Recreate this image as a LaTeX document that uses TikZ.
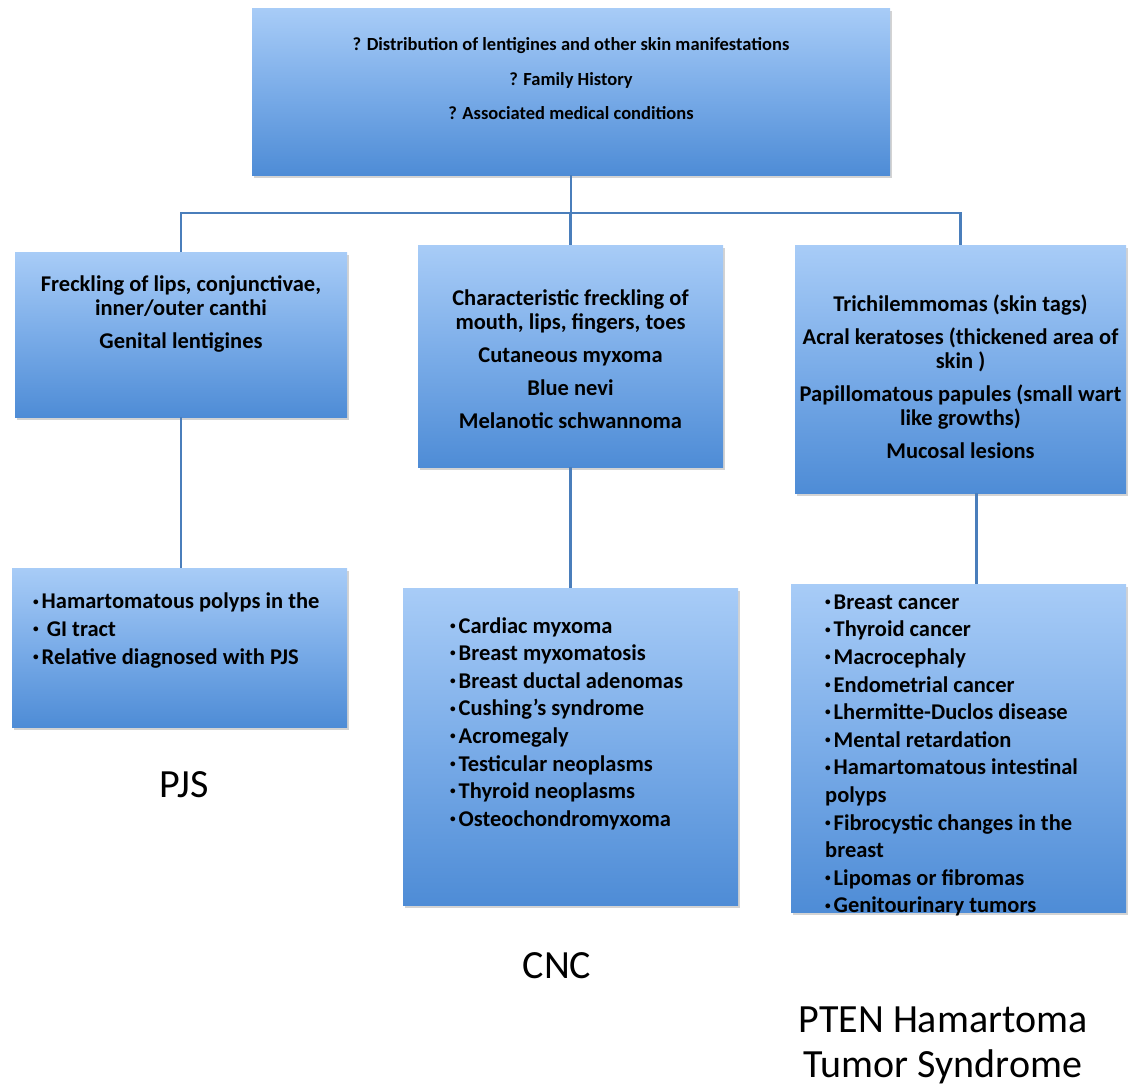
\documentclass[tikz,border=0pt]{standalone}
\usepackage{fontspec}
\setmainfont{Carlito}
\usetikzlibrary{shadows}

\definecolor{boxtop}{RGB}{168,204,247}
\definecolor{boxmid}{RGB}{122,172,232}
\definecolor{boxbot}{RGB}{78,140,214}
\definecolor{linkblue}{RGB}{74,126,187}

\newcommand\blt{\makebox[8.5pt][l]{\raisebox{0.35ex}{\scalebox{0.5}{•}}}}

\tikzset{
    infobox/.style={draw=none, inner sep=0pt,
        top color=boxtop, bottom color=boxbot, middle color=boxmid,
        drop shadow={shadow xshift=1.5pt, shadow yshift=-3pt, opacity=0.35}},
    boxtext/.style={align=center, inner sep=0pt,
        font=\bfseries\fontsize{22.5}{24}\selectfont},
    listtext/.style={align=left, anchor=west, inner sep=0pt,
        font=\bfseries\fontsize{22.5}{27.6}\selectfont},
    link/.style={draw=linkblue, line width=2.6pt},
    synlabel/.style={align=center, inner sep=0pt,
        font=\fontsize{40}{45}\selectfont}
}

\begin{document}
\begin{tikzpicture}[x=1pt, y=-1pt]
        \useasboundingbox (0,0) rectangle (1136,1092);
        % boxes
        \node[infobox, minimum width=638pt, minimum height=167pt] (query) at (571,91.5) {};
        \node[infobox, minimum width=332pt, minimum height=165pt] (pjsSkin) at (181,334.5) {};
        \node[infobox, minimum width=305pt, minimum height=222pt] (cncSkin) at (570.5,356) {};
        \node[infobox, minimum width=331pt, minimum height=248pt] (ptenSkin) at (960.5,369) {};
        \node[infobox, minimum width=335pt, minimum height=159pt] (pjsOrgan) at (179.5,647.5) {};
        \node[infobox, minimum width=335pt, minimum height=317pt] (cncOrgan) at (570.5,746.5) {};
        \node[infobox, minimum width=335pt, minimum height=328pt] (ptenOrgan) at (958.5,748) {};
        % texts
        \node[boxtext, font=\bfseries\fontsize{18.5}{34.5}\selectfont] (queryTxt) at (571,79)
            {? Distribution of lentigines and other skin manifestations\\
             ? Family History\\
             ? Associated medical conditions};
        \node[boxtext] (pjsSkinTxt) at (181,313.5)
            {Freckling of lips, conjunctivae,\\ inner/outer canthi\\[9pt] Genital lentigines};
        \node[boxtext] (cncSkinTxt) at (570.5,359)
            {Characteristic freckling of\\ mouth, lips, fingers, toes\\[9pt]
             Cutaneous myxoma\\[9pt] Blue nevi\\[9pt] Melanotic schwannoma};
        \node[boxtext] (ptenSkinTxt) at (960.5,376.5)
            {Trichilemmomas (skin tags)\\[9pt]
             Acral keratoses (thickened area of\\ skin )\\[9pt]
             Papillomatous papules (small wart\\ like growths)\\[9pt]
             Mucosal lesions};
        \node[listtext] (pjsList) at (33,630.5)
            {\blt Hamartomatous polyps in the\\\blt\ GI tract\\\blt Relative diagnosed with PJS};
        \node[listtext] (cncList) at (450,723.5)
            {\blt Cardiac myxoma\\\blt Breast myxomatosis\\\blt Breast ductal adenomas\\
             \blt Cushing’s syndrome\\\blt Acromegaly\\\blt Testicular neoplasms\\
             \blt Thyroid neoplasms\\\blt Osteochondromyxoma};
        \node[listtext] (ptenList) at (825,755.5)
            {\blt Breast cancer\\\blt Thyroid cancer\\\blt Macrocephaly\\\blt Endometrial cancer\\
             \blt Lhermitte-Duclos disease\\\blt Mental retardation\\
             \blt Hamartomatous intestinal\\polyps\\\blt Fibrocystic changes in the\\breast\\
             \blt Lipomas or fibromas\\\blt Genitourinary tumors};
        % syndrome names
        \node[synlabel, anchor=base] (pjsName) at (184,797) {PJS};
        \node[synlabel, anchor=base] (cncName) at (557,978) {CNC};
        \node[synlabel] (ptenName) at (943,1045) {PTEN Hamartoma\\Tumor Syndrome};
        % connectors
        \coordinate (hub) at (571,213);
        \draw[link] (query.south) -- (hub);
        \draw[link] (pjsSkin.north) |- (ptenSkin.north |- hub) -- (ptenSkin.north);
        \draw[link] (cncSkin.north) -- (cncSkin.north |- hub);
        \draw[link] (pjsSkin.south) -- (pjsSkin.south |- pjsOrgan.north);
        \draw[link] (cncSkin.south) -- (cncOrgan.north);
        \draw[link] ([xshift=16pt]ptenSkin.south) -- ([xshift=16pt]ptenSkin.south |- ptenOrgan.north);
    \end{tikzpicture}
\end{document}
